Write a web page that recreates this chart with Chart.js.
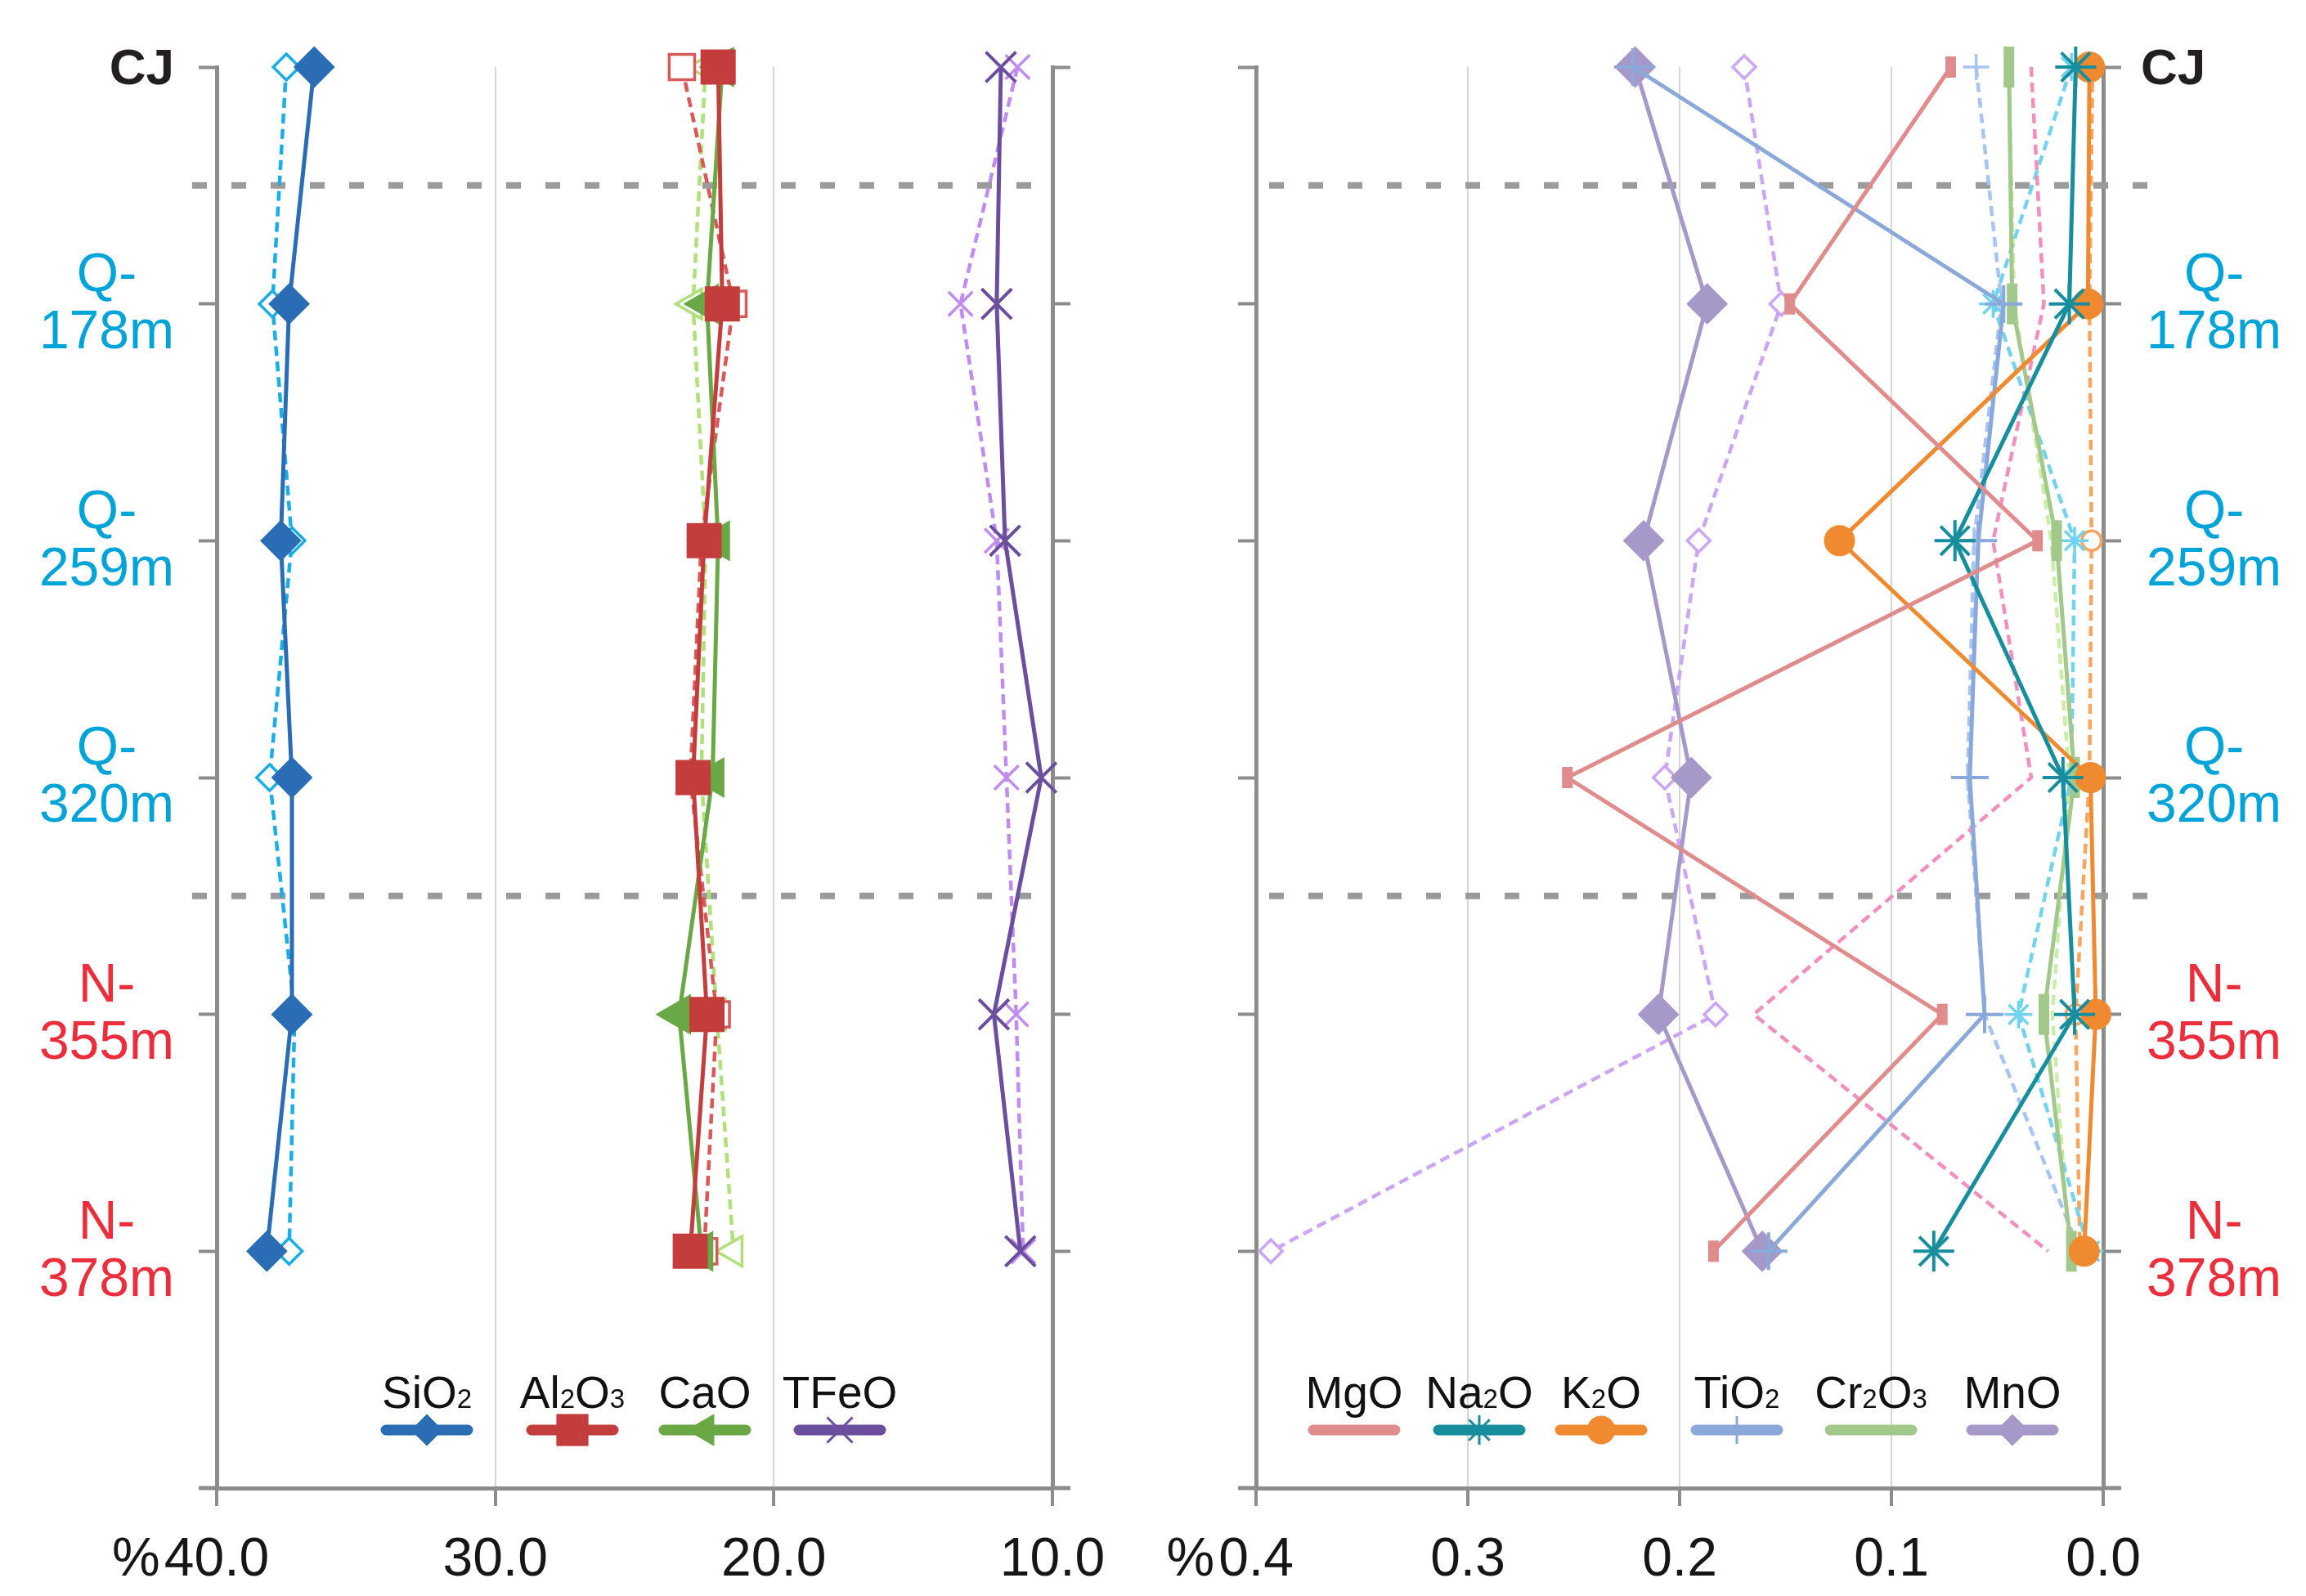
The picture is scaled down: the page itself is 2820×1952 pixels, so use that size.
<!DOCTYPE html>
<html>
<head>
<meta charset="utf-8">
<script src="https://cdn.jsdelivr.net/npm/chart.js@4.4.1/dist/chart.umd.min.js"></script>
<style>
  html, body { margin: 0; padding: 0; background: #fff; }
  #wrap { position: relative; width: 2820px; height: 1952px; }
  canvas { position: absolute; left: 0; top: 0; }
</style>
</head>
<body>
<div id="wrap">
  <canvas id="major" width="2820" height="1952"></canvas>
  <canvas id="minor" width="2820" height="1952"></canvas>
</div>
<script>
// samples, top to bottom
const samples = ["CJ", "Q-178m", "Q-259m", "Q-320m", "N-355m", "N-378m"];
const sampleLines = [["CJ"], ["Q-", "178m"], ["Q-", "259m"], ["Q-", "320m"], ["N-", "355m"], ["N-", "378m"]];
const sampleGroup = ["cj", "q", "q", "q", "n", "n"];
const dividers = [0.5, 3.5];

// x tick labels
const majorTicks = [40, 30, 20, 10];
const minorTicks = [0.4, 0.3, 0.2, 0.1, 0.0];

// major oxides (%), solid = filled markers, dashed = hollow markers
const sio2 = [36.5, 37.4, 37.7, 37.3, 37.3, 38.2];
const sio2B = [37.5, 38.0, 37.3, 38.1, 37.2, 37.4];
const al2o3 = [22.0, 21.85, 22.5, 22.9, 22.4, 23.0];
const al2o3B = [23.3, 21.45, 22.6, 23.0, 22.05, 22.5];
const cao = [21.85, 22.4, 22.0, 22.2, 23.4, 22.6];
const caoB = [22.45, 22.9, 22.45, 22.6, 22.05, 21.45];
const tfeo = [11.85, 12.0, 11.7, 10.4, 12.1, 11.15];
const tfeoB = [11.25, 13.3, 12.0, 11.65, 11.3, 11.05];

// minor oxides (%)
const mgo = [0.072, 0.148, 0.031, 0.253, 0.076, 0.184];
const mgoB = [0.034, 0.028, 0.052, 0.034, 0.165, 0.026];
const na2o = [0.013, 0.016, 0.070, 0.019, 0.0135, 0.080];
const na2oB = [0.015, 0.052, 0.0135, 0.015, 0.040, 0.0065];
const k2o = [0.0065, 0.0072, 0.1245, 0.006, 0.0035, 0.009];
const k2oB = [0.005, 0.0065, 0.0055, 0.0065, 0.013, 0.011];
const tio2 = [0.222, 0.047, 0.059, 0.063, 0.056, 0.158];
const tio2B = [0.060, 0.048, 0.061, 0.064, 0.056, 0.011];
const cr2o3 = [0.0445, 0.043, 0.022, 0.0135, 0.028, 0.015];
const cr2o3B = [0.0445, 0.042, 0.0245, 0.016, 0.024, 0.016];
const mno = [0.221, 0.187, 0.217, 0.1945, 0.210, 0.161];
const mnoB = [0.1695, 0.152, 0.191, 0.207, 0.183, 0.393];

const fontFamily = "'Liberation Sans', Arial, Helvetica, sans-serif";
const axisGray = "#8c8c8c";
const groupColor = { cj: "#231f20", q: "#00a4d9", n: "#ec2d3b" };
const tickFont = 66;

// marker look per oxide
const looks = {
  SiO2:  { color: "#2a6db5", light: "#1aaee6", style: "rectRot", r: 24, rB: 16, legendR: 19 },
  Al2O3: { color: "#c33d3d", light: "#d95858", style: "rect", r: 29, rB: 22, legendR: 27 },
  CaO:   { color: "#6aa845", light: "#b0e07a", style: "triangle", rot: -90, r: 27, rB: 21, legendR: 22 },
  TFeO:  { color: "#6b4f9e", light: "#c08cf0", style: "crossRot", r: 26, rB: 21, bw: 4, legendR: 22, legendBw: 3 },
  MgO:   { color: "#e08c8c", light: "#f38fbe", style: "line", rot: 90, r: 13, rB: 0, bw: 13, legendR: 0 },
  Na2O:  { color: "#178e9d", light: "#72d3ee", style: "star", r: 25, rB: 17, bw: 4, legendR: 18, legendBw: 3 },
  K2O:   { color: "#f08a30", light: "#f6a65e", style: "circle", r: 18, rB: 12, legendR: 17 },
  TiO2:  { color: "#8aa9da", light: "#a8c5f2", style: "cross", r: 23, rB: 16, bw: 4, legendR: 17, legendBw: 3 },
  Cr2O3: { color: "#a2c98b", light: "#c9eea6", style: "line", rot: 90, r: 25, rB: 0, bw: 13, legendR: 0 },
  MnO:   { color: "#a698c8", light: "#cca5f5", style: "rectRot", r: 24, rB: 14, legendR: 19 }
};

function solid(values, name) {
  const c = looks[name];
  return {
    label: name,
    data: values.map((v, i) => ({ x: v, y: i })),
    showLine: true,
    borderColor: c.color,
    borderWidth: 5,
    pointStyle: c.style,
    pointRadius: c.r,
    pointRotation: c.rot || 0,
    pointBackgroundColor: c.color,
    pointBorderColor: c.color,
    pointBorderWidth: c.bw || 2,
    clip: false
  };
}

function dashed(values, name) {
  const c = looks[name];
  return {
    label: name + " (2)",
    data: values.map((v, i) => ({ x: v, y: i })),
    showLine: true,
    borderColor: c.light,
    borderWidth: 4.5,
    borderDash: [12, 7],
    pointStyle: c.style,
    pointRadius: c.rB,
    pointRotation: c.rot || 0,
    pointBackgroundColor: "#ffffff",
    pointBorderColor: c.light,
    pointBorderWidth: 3.5,
    clip: false
  };
}

// chemical formula with small digits
function drawFormula(ctx, text, cx, baseline, size) {
  const parts = text.match(/\d+|\D+/g);
  const sub = Math.round(size * 0.6);
  const fonts = parts.map(p => (/\d/.test(p) ? sub : size) + "px " + fontFamily);
  let total = 0;
  const widths = parts.map((p, k) => {
    ctx.font = fonts[k];
    const w = ctx.measureText(p).width;
    total += w;
    return w;
  });
  let x = cx - total / 2;
  ctx.textAlign = "left";
  ctx.textBaseline = "alphabetic";
  parts.forEach((p, k) => {
    ctx.font = fonts[k];
    ctx.fillText(p, x, baseline);
    x += widths[k];
  });
}

const panelPlugin = {
  id: "panel",
  beforeDatasetsDraw(chart, args, o) {
    const ctx = chart.ctx;
    const a = chart.chartArea;
    const ys = chart.scales.y;
    ctx.save();
    ctx.strokeStyle = "#9b9b9b";
    ctx.lineWidth = 8;
    ctx.setLineDash([18, 30]);
    dividers.forEach(d => {
      const py = ys.getPixelForValue(d);
      ctx.beginPath();
      ctx.moveTo(a.left + o.divFrom, py);
      ctx.lineTo(a.right + o.divTo, py);
      ctx.stroke();
    });
    ctx.restore();
  },
  afterDraw(chart, args, o) {
    const ctx = chart.ctx;
    const a = chart.chartArea;
    const ys = chart.scales.y;
    const xs = chart.scales.x;
    ctx.save();

    // x axis runs a little past both side axes
    ctx.strokeStyle = axisGray;
    ctx.lineWidth = 5;
    ctx.beginPath();
    ctx.moveTo(a.left - 22, a.bottom);
    ctx.lineTo(a.left, a.bottom);
    ctx.moveTo(a.right, a.bottom);
    ctx.lineTo(a.right + 22, a.bottom);
    ctx.stroke();

    // "%" in front of the first tick label
    ctx.font = tickFont + "px " + fontFamily;
    ctx.fillStyle = "#161616";
    const firstLabel = Number(o.pct).toFixed(1);
    const w = ctx.measureText(firstLabel).width;
    const px = xs.getPixelForValue(o.pct);
    const labelY = xs.top + 22 + 27 + tickFont * 0.6;
    ctx.textAlign = "right";
    ctx.textBaseline = "middle";
    ctx.fillText("%", px - w / 2 - 5, labelY);

    // sample labels
    samples.forEach((s, i) => {
      const py = ys.getPixelForValue(i);
      const lines = sampleLines[i];
      ctx.fillStyle = groupColor[sampleGroup[i]];
      ctx.textBaseline = "middle";
      if (lines.length === 1) {
        ctx.font = "bold 62px " + fontFamily;
        if (o.side === "left") {
          ctx.textAlign = "right";
          ctx.fillText(lines[0], a.left - 52, py + 4);
        } else {
          ctx.textAlign = "left";
          ctx.fillText(lines[0], a.right + 46, py + 4);
        }
      } else {
        ctx.font = "66px " + fontFamily;
        const widest = Math.max(...lines.map(t => ctx.measureText(t).width));
        const cx = o.side === "left" ? a.left - 52 - widest / 2 : a.right + 53 + widest / 2;
        ctx.textAlign = "center";
        ctx.fillText(lines[0], cx, py - 34);
        ctx.fillText(lines[1], cx, py + 36);
      }
    });

    // legend: name above a thick line sample
    o.legend.forEach((name, k) => {
      const c = looks[name];
      const cx = o.legendX[k];
      ctx.fillStyle = "#111";
      drawFormula(ctx, name, cx, 1722, 55);
      ctx.strokeStyle = c.color;
      ctx.lineWidth = 13;
      ctx.lineCap = "round";
      ctx.setLineDash([]);
      ctx.beginPath();
      ctx.moveTo(cx - 50, 1749);
      ctx.lineTo(cx + 50, 1749);
      ctx.stroke();
      ctx.lineCap = "butt";
      if (c.legendR && Chart.helpers && Chart.helpers.drawPoint) {
        ctx.fillStyle = c.color;
        ctx.strokeStyle = c.color;
        ctx.lineWidth = c.legendBw || 1;
        Chart.helpers.drawPoint(ctx, {
          pointStyle: c.style, radius: c.legendR, rotation: c.rot || 0, borderWidth: c.legendBw || 1
        }, cx, 1749);
      }
    });
    ctx.restore();
  }
};

function yAxis(position) {
  return {
    type: "linear",
    position: position,
    min: 0,
    max: 6,
    reverse: true,
    afterBuildTicks: s => { s.ticks = samples.map((_, i) => ({ value: i })); },
    afterFit: s => { s.width = 100; },
    ticks: { display: false },
    grid: { drawOnChartArea: false, drawTicks: true, tickLength: 22, tickColor: axisGray, tickWidth: 4 },
    border: { display: true, color: axisGray, width: 5 }
  };
}

function xAxis(min, max, tickValues) {
  return {
    type: "linear",
    position: "bottom",
    min: min,
    max: max,
    reverse: true,
    afterBuildTicks: s => { s.ticks = tickValues.map(v => ({ value: v })); },
    afterFit: s => { s.height = 130; },
    ticks: {
      callback: v => Number(v).toFixed(1),
      font: { family: fontFamily, size: tickFont },
      color: "#161616",
      padding: 27,
      maxRotation: 0,
      autoSkip: false
    },
    grid: {
      color: c => (c.tick && (c.tick.value === min || c.tick.value === max)) ? "rgba(0,0,0,0)" : "#d6d6d6",
      lineWidth: 2,
      drawTicks: true,
      tickLength: 22,
      tickColor: axisGray,
      tickWidth: 4
    },
    border: { display: true, color: axisGray, width: 5 }
  };
}

function makeChart(id, datasets, xMin, xMax, tickValues, padding, panel) {
  return new Chart(document.getElementById(id), {
    type: "scatter",
    data: { datasets: datasets },
    options: {
      responsive: false,
      devicePixelRatio: 1,
      animation: false,
      events: [],
      layout: { padding: padding },
      scales: {
        x: xAxis(xMin, xMax, tickValues),
        y: yAxis("left"),
        y2: yAxis("right")
      },
      plugins: {
        legend: { display: false },
        tooltip: { enabled: false },
        panel: panel
      }
    },
    plugins: [panelPlugin]
  });
}

makeChart("major", [
  solid(sio2, "SiO2"), solid(al2o3, "Al2O3"), solid(cao, "CaO"), solid(tfeo, "TFeO"),
  dashed(sio2B, "SiO2"), dashed(al2o3B, "Al2O3"), dashed(caoB, "CaO"), dashed(tfeoB, "TFeO")
], 10, 40, majorTicks,
  { left: 165, right: 1433, top: 82, bottom: 2 },
  { side: "left", pct: 40, divFrom: -30, divTo: -4,
    legend: ["SiO2", "Al2O3", "CaO", "TFeO"], legendX: [522, 700, 862, 1027] });

makeChart("minor", [
  solid(mgo, "MgO"), solid(na2o, "Na2O"), solid(k2o, "K2O"), solid(tio2, "TiO2"), solid(cr2o3, "Cr2O3"), solid(mno, "MnO"),
  dashed(mgoB, "MgO"), dashed(na2oB, "Na2O"), dashed(k2oB, "K2O"), dashed(tio2B, "TiO2"), dashed(cr2o3B, "Cr2O3"), dashed(mnoB, "MnO")
], 0, 0.4, minorTicks,
  { left: 1436, right: 148, top: 82, bottom: 2 },
  { side: "right", pct: 0.4, divFrom: 16, divTo: 60,
    legend: ["MgO", "Na2O", "K2O", "TiO2", "Cr2O3", "MnO"], legendX: [1656, 1809, 1958, 2124, 2288, 2461] });
</script>
</body>
</html>
